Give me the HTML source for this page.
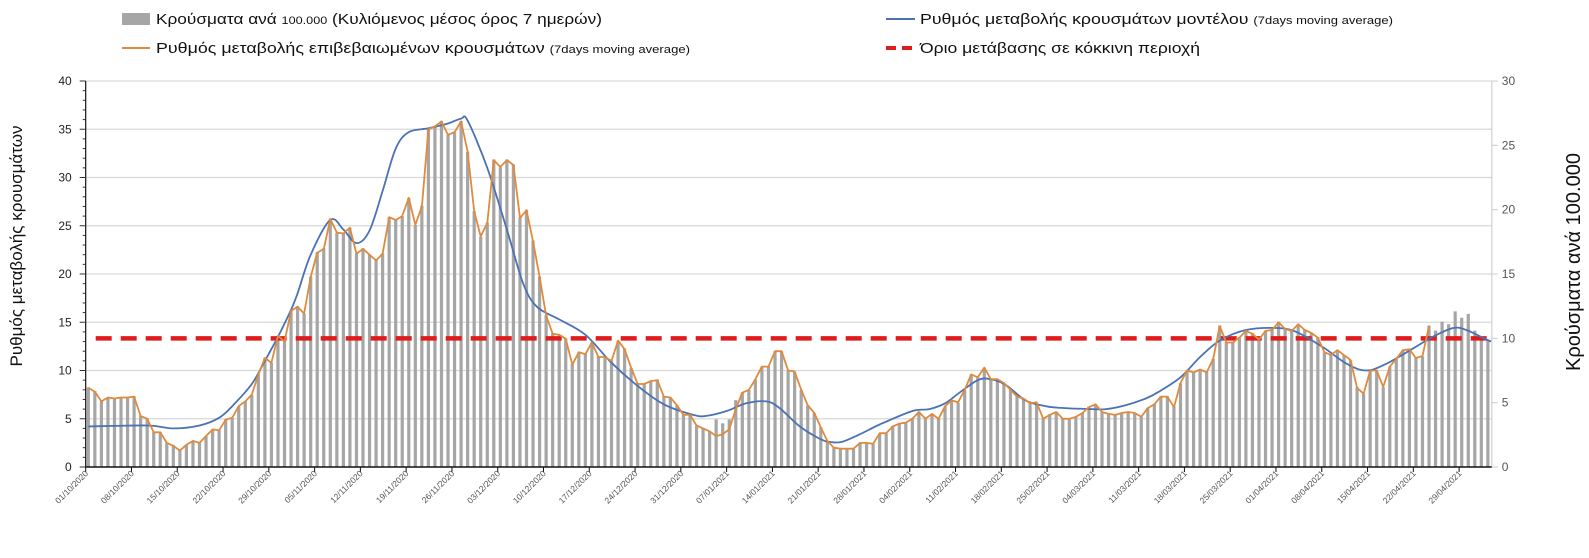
<!DOCTYPE html>
<html><head><meta charset="utf-8"><style>
html,body{margin:0;padding:0;background:#fff;}
svg{display:block;font-family:"Liberation Sans","DejaVu Sans",sans-serif;}
</style></head><body>
<svg id="chart" width="1589" height="558" viewBox="0 0 1589 558" xmlns="http://www.w3.org/2000/svg">
<g id="legend">
  <g>
    <rect x="122" y="13" width="28" height="12" fill="#a6a6a6"/>
    <text x="156" y="24" font-size="15" font-family="'Liberation Sans Narrow','Liberation Sans',sans-serif" fill="#111" textLength="446" lengthAdjust="spacingAndGlyphs">Κρούσματα ανά <tspan font-size="11">100.000</tspan> (Κυλιόμενος μέσος όρος 7 ημερών)</text>
  </g>
  <g>
    <line x1="122" y1="48" x2="150" y2="48" stroke="#e08a3c" stroke-width="2"/>
    <text x="156" y="53" font-size="15" font-family="'Liberation Sans Narrow','Liberation Sans',sans-serif" fill="#111" textLength="534" lengthAdjust="spacingAndGlyphs">Ρυθμός μεταβολής επιβεβαιωμένων κρουσμάτων <tspan font-size="11">(7days moving average)</tspan></text>
  </g>
  <g>
    <line x1="886" y1="19" x2="915" y2="19" stroke="#4a72b5" stroke-width="2"/>
    <text x="920" y="24" font-size="15" font-family="'Liberation Sans Narrow','Liberation Sans',sans-serif" fill="#111" textLength="473" lengthAdjust="spacingAndGlyphs">Ρυθμός μεταβολής κρουσμάτων μοντέλου <tspan font-size="11">(7days moving average)</tspan></text>
  </g>
  <g>
    <line x1="886" y1="48" x2="915" y2="48" stroke="#e01b1b" stroke-width="4" stroke-dasharray="10,6"/>
    <text x="920" y="53" font-size="15" font-family="'Liberation Sans Narrow','Liberation Sans',sans-serif" fill="#111" textLength="280" lengthAdjust="spacingAndGlyphs">Όριο μετάβασης σε κόκκινη περιοχή</text>
  </g>
</g>
<text transform="translate(22,246) rotate(-90)" text-anchor="middle" font-size="17" fill="#111">Ρυθμός μεταβολής κρουσμάτων</text>
<text transform="translate(1580,262) rotate(-90)" text-anchor="middle" font-size="20" fill="#111">Κρούσματα ανά 100.000</text>
<g id="plot"></g>
</svg>
<script>
const orangeVals=[8.2,7.8,6.8,7.2,7.1,7.2,7.2,7.3,5.3,5.0,3.6,3.6,2.5,2.2,1.7,2.3,2.7,2.5,3.2,3.9,3.8,4.9,5.1,6.3,6.8,7.5,9.6,11.3,10.8,13.6,13.0,16.2,16.6,15.9,19.7,22.2,22.6,25.7,24.3,24.2,24.8,22.1,22.6,22.0,21.4,22.1,25.9,25.6,26.0,27.9,25.1,27.0,35.0,35.3,35.8,34.4,34.7,35.8,32.7,26.5,23.9,25.3,31.8,31.1,31.8,31.3,25.8,26.6,23.4,19.7,15.7,13.8,13.7,13.3,10.6,11.9,11.7,12.9,11.4,11.4,11.0,13.1,12.2,10.3,8.6,8.6,8.9,9.0,7.3,7.2,6.4,5.4,5.4,4.3,4.0,3.7,3.2,3.4,3.9,6.0,7.7,8.0,9.1,10.4,10.4,12.0,12.0,10.0,9.9,8.0,6.4,5.6,4.1,2.7,2.0,1.9,1.9,1.9,2.5,2.5,2.4,3.5,3.5,4.2,4.5,4.6,5.0,5.7,5.0,5.5,5.0,6.3,6.9,6.7,8.0,9.6,9.3,10.3,9.1,9.1,8.7,8.0,7.3,7.1,6.6,6.7,5.0,5.4,5.7,5.0,5.0,5.2,5.6,6.2,6.5,5.7,5.5,5.4,5.6,5.7,5.6,5.2,6.1,6.5,7.3,7.3,6.2,8.7,10.0,9.8,10.1,9.8,11.2,14.6,12.9,12.9,13.4,14.1,13.8,13.2,14.1,14.2,15.0,14.3,14.1,14.8,14.2,13.9,13.4,11.9,11.6,12.1,11.6,11.1,8.2,7.6,10.0,10.0,8.3,10.4,11.2,12.1,12.2,11.3,11.5,14.6];
const barVals=[6.2,5.9,5.1,5.4,5.3,5.4,5.4,5.5,4.0,3.8,2.7,2.7,1.9,1.7,1.3,1.7,2.0,1.9,2.4,2.9,2.9,3.7,3.8,4.7,5.1,5.6,7.2,8.5,8.1,10.2,9.8,12.2,12.5,11.9,14.8,16.7,17.0,19.3,18.2,18.2,18.6,16.6,17.0,16.5,16.1,16.6,19.4,19.2,19.5,20.9,18.8,20.3,26.3,26.5,26.9,25.8,26.0,26.9,24.5,19.9,17.9,19.0,23.9,23.3,23.9,23.5,19.4,20.0,17.6,14.8,11.8,10.4,10.3,10.0,8.0,8.9,8.8,9.7,8.6,8.6,8.3,9.8,9.2,7.7,6.5,6.5,6.7,6.8,5.5,5.4,4.8,4.1,4.1,3.2,3.0,2.8,3.7,3.4,3.7,5.2,5.8,6.0,6.8,7.8,7.8,9.0,9.0,7.5,7.4,6.0,4.8,4.2,3.1,2.0,1.5,1.4,1.4,1.4,1.9,1.9,1.8,2.6,2.6,3.2,3.4,3.5,3.8,4.3,3.8,4.1,3.8,4.7,5.2,5.0,6.0,7.2,7.0,7.7,6.8,6.8,6.5,6.0,5.5,5.3,5.0,5.0,3.8,4.1,4.3,3.8,3.8,3.9,4.2,4.7,4.9,4.3,4.1,4.1,4.2,4.3,4.2,3.9,4.6,4.9,5.5,5.5,4.7,6.5,7.5,7.4,7.6,7.4,8.4,11.0,9.7,9.7,10.1,10.6,10.4,9.9,10.6,10.7,11.3,10.7,10.6,11.1,10.7,10.4,10.1,8.9,8.7,9.1,8.7,8.3,6.2,5.7,7.5,7.5,6.2,7.8,8.4,9.1,9.2,8.5,8.6,11.0,10.6,11.3,11.1,12.1,11.6,11.9,10.6,10.0,9.9];
const blueDays=[0,9,13,17,20,22,25,27,29,31,32,34,37,39,41,43,45,47,49,52,55,57,58,61,64,66.5,68.6,72,76,80,84,88,92.5,94.5,97.6,100.6,103.7,105.7,108.8,111.9,113.4,115.2,118,121,126,128.6,131,133,136,138,140.3,143.3,146.4,149.4,153.5,155.6,158.6,161.7,163.7,167,170,173,177,181.7,184.7,188.8,192.4,195.4,198.5,202.6,205.6,208.7,210.7,213.5,214.5];
const blueVals=[4.2,4.3,4.0,4.3,5.1,6.3,8.6,11.0,13.5,16.3,18.0,22.0,25.6,24.6,23.2,24.5,28.6,33.0,34.7,35.1,35.6,36.1,35.9,31.0,24.6,19.0,16.6,15.3,13.7,10.8,8.4,6.5,5.4,5.3,5.8,6.6,6.8,6.1,4.2,2.9,2.6,2.6,3.4,4.4,5.8,6.0,6.6,7.6,9.0,9.1,8.5,6.9,6.3,6.1,6.0,6.0,6.4,7.1,7.8,9.3,11.4,13.1,14.2,14.4,14.0,12.4,10.7,10.0,10.7,12.3,13.5,14.4,14.2,13.3,13.0];
const tickLabels=["01/10/2020","08/10/2020","15/10/2020","22/10/2020","29/10/2020","05/11/2020","12/11/2020","19/11/2020","26/11/2020","03/12/2020","10/12/2020","17/12/2020","24/12/2020","31/12/2020","07/01/2021","14/01/2021","21/01/2021","28/01/2021","04/02/2021","11/02/2021","18/02/2021","25/02/2021","04/03/2021","11/03/2021","18/03/2021","25/03/2021","01/04/2021","08/04/2021","15/04/2021","22/04/2021","29/04/2021"];
const leftTicks=[0,5,10,15,20,25,30,35,40];
const rightTicks=[0,5,10,15,20,25,30];
const threshold=[10];

const NS="http://www.w3.org/2000/svg";
const X0=85.7, DAY=6.54, Y0=467, YT=81, XR=X0+215*DAY;
const dayX=d=>X0+(d+0.4)*DAY;
const tickX=d=>X0+d*DAY;
const yL=v=>Y0-(Y0-YT)*v/40;
const yR=v=>Y0-(Y0-YT)*v/30;
const plot=document.getElementById('plot');
function mk(tag,attrs,parent){const e=document.createElementNS(NS,tag);for(const k in attrs)e.setAttribute(k,attrs[k]);(parent||plot).appendChild(e);return e;}

leftTicks.forEach(v=>{
  if(v===0)return;
  const g=mk('line',{x1:X0,x2:XR,y1:yL(v),y2:yL(v),stroke:'#d9d9d9','stroke-width':1.2});
  
  
});
barVals.forEach((v,i)=>{
  const r=mk('rect',{x:dayX(i)-1.6,y:yR(v),width:3.2,height:Y0-yR(v),fill:'#a6a6a6'});
  
  
});
threshold.forEach(v=>{
  const l=mk('line',{x1:X0+10,x2:XR,y1:yR(v),y2:yR(v),stroke:'#e01b1b','stroke-width':4.5,'stroke-dasharray':'16,9'});
  
  
});
(function(){
  const pts=blueDays.map((d,i)=>[dayX(d),yL(blueVals[i])]);
  let p='M'+pts[0][0]+','+pts[0][1];
  for(let i=0;i<pts.length-1;i++){
    const a=pts[Math.max(0,i-1)],b=pts[i],c=pts[i+1],d=pts[Math.min(pts.length-1,i+2)];
    const c1=[b[0]+(c[0]-a[0])/6,b[1]+(c[1]-a[1])/6],c2=[c[0]-(d[0]-b[0])/6,c[1]-(d[1]-b[1])/6];
    p+=' C'+c1[0].toFixed(1)+','+c1[1].toFixed(1)+' '+c2[0].toFixed(1)+','+c2[1].toFixed(1)+' '+c[0].toFixed(1)+','+c[1].toFixed(1);
  }
  const e=mk('path',{d:p,fill:'none',stroke:'#4a72b5','stroke-width':1.8});
  
  
})();
(function(){
  const p=orangeVals.map((v,i)=>(i?'L':'M')+dayX(i).toFixed(1)+','+yL(v).toFixed(1)).join(' ');
  const e=mk('path',{d:p,fill:'none',stroke:'#e08a3c','stroke-width':1.8,'stroke-linejoin':'round'});
  
  
})();
const la=mk('line',{x1:X0,x2:X0,y1:YT,y2:Y0,stroke:'#111','stroke-width':1.2});


const ra=mk('line',{x1:XR,x2:XR,y1:YT,y2:Y0,stroke:'#d0d0d0','stroke-width':1.2});


const xa=mk('line',{x1:X0,x2:XR,y1:Y0,y2:Y0,stroke:'#111','stroke-width':1.4});


for(let v=0;v<=40;v++){
  mk('line',{x1:X0-(v%5===0?6:3),x2:X0,y1:yL(v),y2:yL(v),stroke:'#333','stroke-width':1});
}
leftTicks.forEach(v=>{
  const t=mk('text',{x:X0-14,y:yL(v)+4,'text-anchor':'end','font-size':12,fill:'#222'});
  t.textContent=v;
  
  
});
rightTicks.forEach(v=>{
  mk('line',{x1:XR,x2:XR+6,y1:yR(v),y2:yR(v),stroke:'#ccc','stroke-width':1});
  const t=mk('text',{x:XR+10,y:yR(v)+4,'font-size':12,fill:'#555'});
  t.textContent=v;
  
  
});
tickLabels.forEach((s,i)=>{
  const x=tickX(i*7);
  mk('line',{x1:x,x2:x,y1:Y0,y2:Y0+5,stroke:'#111','stroke-width':1});
  const t=mk('text',{transform:'translate('+(x+3)+','+(Y0+7)+') rotate(-45)','text-anchor':'end','font-size':8.5,fill:'#555'});
  t.textContent=s;
  
  
});
</script>
</body></html>
